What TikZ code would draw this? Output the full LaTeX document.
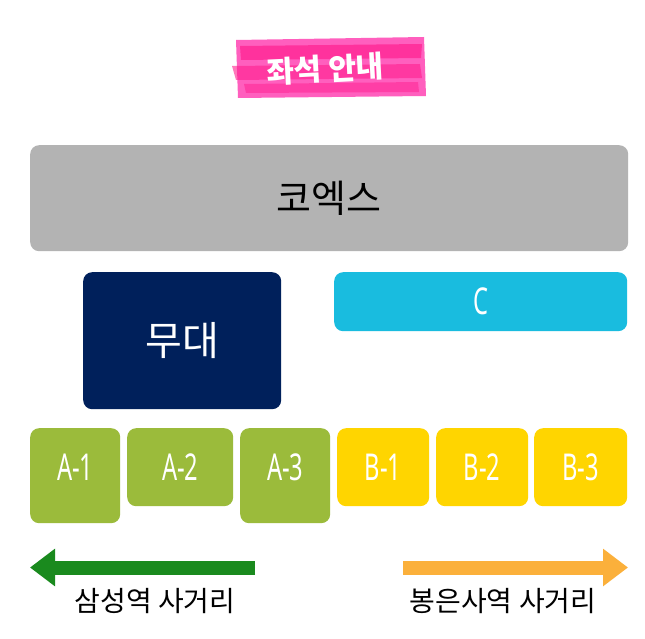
\documentclass[tikz,border=0pt]{standalone}
\usepackage{fontspec}
\usepackage{graphicx}
\usetikzlibrary{arrows.meta}
\newfontfamily\kr{Noto Sans CJK KR}
\newfontfamily\cond{Noto Sans}[FakeStretch=0.64]
\definecolor{coexgray}{HTML}{B3B3B3}
\definecolor{stagenavy}{HTML}{00205B}
\definecolor{ccyan}{HTML}{19BCDF}
\definecolor{agreen}{HTML}{9BBB3B}
\definecolor{byellow}{HTML}{FFD500}
\definecolor{arrgreen}{HTML}{1A8A1E}
\definecolor{arrorange}{HTML}{FBB03B}
\definecolor{pinklight}{HTML}{FF5FBE}
\definecolor{pinkdark}{HTML}{FF1F8F}
\begin{document}
\begin{tikzpicture}[x=1pt,y=-1pt,
  blk/.style={rounded corners=9pt, inner sep=0pt, anchor=north west},
  seat/.style={blk},
  seatlabel/.style={text=white, font=\cond\fontsize{37}{40}\selectfont},
  legend/.style={font=\kr\fontsize{28}{32}\selectfont, text=black},
  exitarrow/.style={line width=14pt, -{Triangle[length=25pt,width=36pt]}}]
\useasboundingbox (0,0) rectangle (645,639);
\fill[white] (0,0) rectangle (645,639);
% title badge
\fill[pinklight] (236,40) -- (424,37) -- (426,96) -- (238,98) -- cycle;
\fill[pinkdark, opacity=0.7] (240,46) -- (422,44) -- (421,58) -- (241,60) -- cycle;
\fill[pinkdark, opacity=0.6] (232,66) -- (420,64) -- (422,78) -- (236,80) -- cycle;
\fill[pinkdark, opacity=0.5] (244,84) -- (418,82) -- (419,92) -- (246,93) -- cycle;
\node[text=white, font=\kr\bfseries\fontsize{30}{34}\selectfont, rotate=3] (title) at (325,69) {좌석 안내};
% blocks
\node[blk, fill=coexgray, minimum width=598pt, minimum height=106pt] (coex) at (30,145) {};
\node[font=\kr\fontsize{38}{42}\selectfont] (coext) at (coex.center) {코엑스};
\node[blk, fill=stagenavy, minimum width=198pt, minimum height=137pt] (stage) at (83,272) {};
\node[text=white, font=\kr\fontsize{40}{44}\selectfont] (staget) at (stage.center) {무대};
\node[blk, fill=ccyan, minimum width=293pt, minimum height=59pt] (c) at (334,272) {};
\node[seatlabel] (ct) at (c.center) {C};
% seats
\node[seat, fill=agreen, minimum width=90pt, minimum height=95pt] (a1) at (30,428) {};
\node[seat, fill=agreen, minimum width=106pt, minimum height=78pt] (a2) at (127,428) {};
\node[seat, fill=agreen, minimum width=90pt, minimum height=95pt] (a3) at (240,428) {};
\node[seat, fill=byellow, minimum width=92pt, minimum height=78pt] (b1) at (337,428) {};
\node[seat, fill=byellow, minimum width=92pt, minimum height=78pt] (b2) at (436,428) {};
\node[seat, fill=byellow, minimum width=93pt, minimum height=78pt] (b3) at (534,428) {};
\foreach \n/\t in {a1/A-1,a2/A-2,a3/A-3,b1/B-1,b2/B-2,b3/B-3}
  \node[seatlabel] (\n t) at ([yshift=-39pt]\n.north) {\t};
% exit arrows
\coordinate (gs) at (255,567.5);
\coordinate (ge) at (30,567.5);
\coordinate (os) at (403,567.5);
\coordinate (oe) at (628,567.5);
\draw[exitarrow, draw=arrgreen, fill=arrgreen] (gs) -- (ge);
\draw[exitarrow, draw=arrorange, fill=arrorange] (os) -- (oe);
\node[legend] (l1) at (155,601) {삼성역 사거리};
\node[legend] (l2) at (503,601) {봉은사역 사거리};
\end{tikzpicture}
\end{document}
